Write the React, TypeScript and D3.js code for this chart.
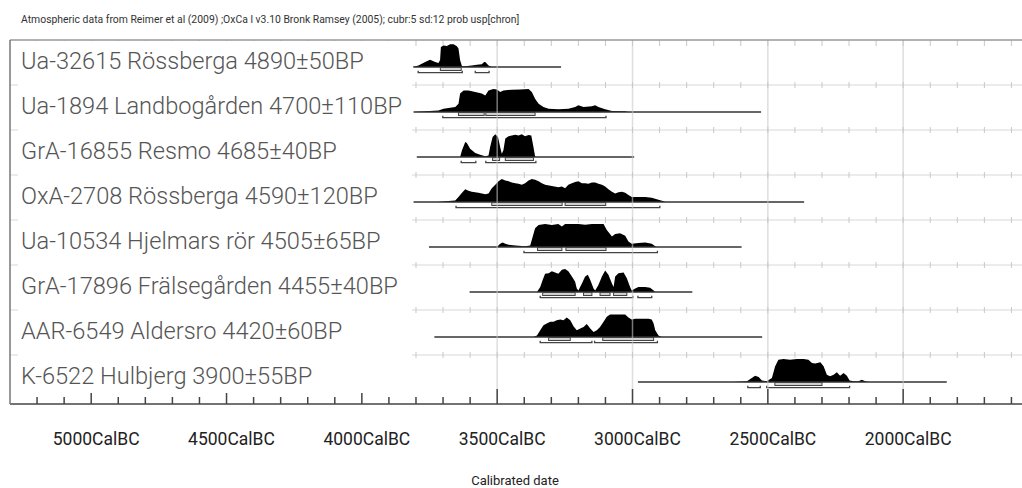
import React from "react";
import * as d3 from "d3";

const title =
  "Atmospheric data from Reimer et al (2009) ;OxCa l v3.10 Bronk Ramsey (2005); cubr:5 sd:12 prob usp[chron]";

const labels = [
  "Ua-32615 Rössberga 4890±50BP",
  "Ua-1894 Landbogården 4700±110BP",
  "GrA-16855 Resmo 4685±40BP",
  "OxA-2708 Rössberga 4590±120BP",
  "Ua-10534 Hjelmars rör 4505±65BP",
  "GrA-17896 Frälsegården 4455±40BP",
  "AAR-6549 Aldersro 4420±60BP",
  "K-6522 Hulbjerg 3900±55BP",
];

// extent of each calculated curve, years BC
const spans = [
  [3810, 3264],
  [3809, 2525],
  [3797, 2994],
  [3809, 2366],
  [3752, 2597],
  [3602, 2779],
  [3732, 2521],
  [2980, 1839],
];

// 68.2% and 95.4% ranges, years BC
const range68 = [
  [[3710, 3633]],
  [[3643, 3548], [3542, 3360]],
  [[3517, 3491], [3470, 3366]],
  [[3520, 3260], [3249, 3099]],
  [[3351, 3261], [3246, 3098]],
  [[3332, 3212], [3181, 3150], [3120, 3083], [3070, 3021]],
  [[3310, 3230], [3110, 2922]],
  [[2474, 2300]],
];
const range95 = [
  [[3792, 3629], [3581, 3530]],
  [[3701, 3098]],
  [[3633, 3579], [3542, 3357]],
  [[3652, 2899]],
  [[3401, 2908]],
  [[3341, 2999], [2980, 2929]],
  [[3341, 3150], [3140, 2908]],
  [[2574, 2528], [2504, 2198]],
];

// probability (relative to peak = 100), [year BC, p]
const dens1 = [
  [3812, 0], [3791, 7], [3766, 22], [3748, 32], [3729, 22], [3717, 17], [3711, 30],
  [3708, 87], [3698, 94], [3686, 91], [3674, 99], [3661, 99], [3649, 90], [3643, 80],
  [3637, 29], [3630, 3], [3618, 3], [3594, 7], [3575, 10], [3557, 12], [3548, 22],
  [3544, 22], [3532, 7], [3520, 0],
];
const dens2 = [
  [3809, 0], [3766, 3], [3717, 7], [3698, 14], [3680, 17], [3655, 22], [3643, 36],
  [3637, 80], [3624, 94], [3606, 94], [3581, 87], [3557, 80], [3544, 72], [3532, 94],
  [3514, 100], [3501, 98], [3489, 87], [3477, 94], [3446, 97], [3415, 98], [3384, 100],
  [3372, 87], [3360, 58], [3347, 36], [3329, 22], [3310, 14], [3274, 12], [3237, 14],
  [3212, 22], [3200, 29], [3181, 22], [3150, 25], [3138, 29], [3126, 22], [3101, 12],
  [3076, 4], [3027, 3], [3015, 0],
];
const dens3 = [
  [3637, 0], [3630, 29], [3618, 65], [3612, 61], [3600, 36], [3581, 17], [3563, 10],
  [3544, 3], [3532, 7], [3526, 43], [3517, 87], [3507, 99], [3497, 87], [3489, 43],
  [3483, 14], [3477, 29], [3470, 80], [3458, 90], [3446, 94], [3433, 97], [3421, 94],
  [3409, 99], [3397, 90], [3384, 96], [3374, 94], [3366, 43], [3360, 3], [3357, 0],
];
const dens4 = [
  [3720, 0], [3692, 3], [3655, 7], [3643, 22], [3630, 40], [3618, 55], [3606, 49],
  [3594, 45], [3569, 40], [3544, 34], [3532, 37], [3520, 60], [3507, 75], [3495, 90],
  [3483, 100], [3470, 94], [3458, 90], [3446, 85], [3433, 82], [3421, 79], [3409, 75],
  [3397, 82], [3384, 94], [3372, 100], [3360, 97], [3347, 90], [3335, 82], [3323, 75],
  [3298, 70], [3274, 64], [3261, 67], [3249, 60], [3237, 75], [3224, 82], [3212, 87],
  [3200, 90], [3187, 82], [3175, 82], [3163, 79], [3150, 85], [3138, 85], [3126, 79],
  [3113, 75], [3101, 67], [3089, 55], [3076, 45], [3064, 37], [3052, 42], [3039, 45],
  [3027, 40], [3015, 30], [3003, 22], [2978, 22], [2953, 22], [2929, 19], [2904, 10],
  [2885, 3], [2879, 0],
];
const dens5 = [
  [3501, 0], [3489, 14], [3480, 20], [3470, 14], [3458, 10], [3433, 6], [3397, 3],
  [3378, 6], [3372, 31], [3360, 81], [3347, 96], [3323, 100], [3298, 96], [3274, 100],
  [3261, 89], [3249, 100], [3224, 100], [3200, 100], [3175, 97], [3150, 100], [3126, 100],
  [3107, 100], [3095, 74], [3076, 46], [3064, 57], [3046, 60], [3027, 49], [3015, 24],
  [3003, 14], [2978, 17], [2953, 20], [2929, 14], [2916, 3], [2910, 0],
];
const dens6 = [
  [3353, 0], [3341, 22], [3332, 52], [3323, 79], [3310, 82], [3298, 90], [3286, 85],
  [3274, 79], [3261, 97], [3249, 100], [3237, 90], [3224, 67], [3212, 45], [3206, 15],
  [3200, 7], [3187, 37], [3175, 67], [3165, 75], [3156, 52], [3144, 15], [3138, 7],
  [3126, 30], [3113, 67], [3101, 94], [3089, 75], [3076, 37], [3070, 22], [3064, 67],
  [3052, 82], [3033, 85], [3021, 60], [3009, 22], [3003, 7], [2990, 15], [2978, 22],
  [2953, 22], [2935, 19], [2922, 7], [2916, 0],
];
const dens7 = [
  [3366, 0], [3353, 7], [3341, 29], [3329, 51], [3317, 59], [3304, 66], [3292, 66],
  [3280, 73], [3267, 76], [3255, 73], [3243, 85], [3230, 73], [3218, 47], [3206, 29],
  [3193, 37], [3181, 44], [3169, 56], [3156, 37], [3144, 22], [3132, 29], [3120, 44],
  [3107, 66], [3095, 88], [3083, 98], [3052, 98], [3027, 98], [3015, 85], [3003, 76],
  [2990, 79], [2966, 79], [2941, 79], [2929, 76], [2922, 59], [2916, 29], [2904, 7],
  [2892, 0],
];
const dens8 = [
  [2627, 0], [2577, 3], [2565, 13], [2547, 27], [2534, 22], [2522, 7], [2504, 3],
  [2485, 17], [2473, 68], [2461, 97], [2442, 100], [2418, 97], [2393, 100], [2368, 100],
  [2350, 97], [2337, 83], [2325, 80], [2306, 86], [2294, 68], [2282, 32], [2270, 25],
  [2257, 32], [2245, 42], [2233, 27], [2220, 39], [2208, 27], [2198, 7], [2183, 3],
  [2165, 3], [2153, 10], [2140, 3], [2128, 0],
];
const densities = [dens1, dens2, dens3, dens4, dens5, dens6, dens7, dens8];

const majorYears = [5000, 4500, 4000, 3500, 3000, 2500, 2000];
const tickLabels = ["5000CalBC", "4500CalBC", "4000CalBC", "3500CalBC", "3000CalBC", "2500CalBC", "2000CalBC"];
const axisTitle = "Calibrated date";

export default function App() {
  const width = 1022;
  const height = 488;
  const left = 10;
  const top = 40;
  const rowH = 45;
  const axisY = 404;
  const peak = 23;
  const font = "Roboto, 'DejaVu Sans', sans-serif";

  const x = d3.scaleLinear().domain([5300, 1500]).range([left, 1038.5]);
  const minorYears = d3.range(5200, 1499, -100);

  const area = d3
    .area<number[]>()
    .x((d) => x(d[0]))
    .y0(0)
    .y1((d) => (-d[1] / 100) * peak);

  const rowTops = labels.map((_, i) => top + i * rowH);

  return (
    <svg
      width={width}
      height={height}
      style={{ position: "absolute", left: 0, top: 0, background: "#fff" }}
      fontFamily={font}
    >
      <text x={21} y={23} fontSize={10.4} fill="#333">
        {title}
      </text>

      {/* faint row lines with 100-year ticks */}
      {rowTops.map((ry, i) => (
        <g key={"r" + i}>
          {i > 0 && <line x1={left} x2={width} y1={ry} y2={ry} stroke="#d8d8d8" strokeWidth={1} />}
          {minorYears.map((yr) => (
            <line
              key={yr}
              x1={x(yr)}
              x2={x(yr)}
              y1={i === 0 ? ry : ry - 3}
              y2={ry + (i === 0 ? 6 : 3)}
              stroke="#c8c8c8"
              strokeWidth={1}
            />
          ))}
        </g>
      ))}

      {/* label panel */}
      <rect x={18} y={top + 1} width={394} height={352} fill="#fff" />

      {labels.map((l, i) => (
        <text key={l} x={21} y={rowTops[i] + 28.5} fontSize={23.6} fontWeight={300} fill="#555">
          {l}
        </text>
      ))}

      {densities.map((dens, i) => {
        const base = rowTops[i] + 27;
        return (
          <g key={"d" + i} transform={`translate(0,${base})`}>
            <path d={area(dens) ?? ""} fill="#000" />
            <line x1={x(spans[i][0])} x2={x(spans[i][1])} y1={0} y2={0} stroke="#333" strokeWidth={1.5} />
            {range68[i].map((r, j) => (
              <rect
                key={"a" + j}
                x={x(r[0])}
                y={0.5}
                width={x(r[1]) - x(r[0])}
                height={3}
                fill="#d0d0d0"
                stroke="#444"
                strokeWidth={1}
              />
            ))}
            {range95[i].map((r, j) => (
              <path
                key={"b" + j}
                d={`M${x(r[0])},3.8V5.6H${x(r[1])}V3.8`}
                fill="none"
                stroke="#444"
                strokeWidth={1.3}
              />
            ))}
          </g>
        );
      })}

      {/* vertical grid on top */}
      {majorYears
        .filter((yr) => x(yr) > 412)
        .map((yr) => (
          <line key={"g" + yr} x1={x(yr)} x2={x(yr)} y1={top} y2={axisY} stroke="#c8c8c8" strokeOpacity={0.6} strokeWidth={1.5} />
        ))}

      {/* axis */}
      {minorYears.map((yr) => (
        <line
          key={"t" + yr}
          x1={x(yr)}
          x2={x(yr)}
          y1={axisY - (majorYears.includes(yr) ? (x(yr) > 412 ? 15 : 11) : 7)}
          y2={axisY}
          stroke="#444"
          strokeWidth={1.5}
        />
      ))}
      <line x1={left} x2={width} y1={axisY} y2={axisY} stroke="#444" strokeWidth={1.5} />
      <line x1={left} x2={width} y1={top} y2={top} stroke="#999" strokeWidth={1.5} />
      <line x1={left} x2={left} y1={top} y2={axisY} stroke="#777" strokeWidth={1.5} />

      {majorYears.map((yr, i) => (
        <text key={"l" + yr} x={x(yr) + 5} y={445} fontSize={17.5} fill="#222" textAnchor="middle">
          {tickLabels[i]}
        </text>
      ))}
      <text x={515} y={485} fontSize={13} fill="#222" textAnchor="middle">
        {axisTitle}
      </text>
    </svg>
  );
}
